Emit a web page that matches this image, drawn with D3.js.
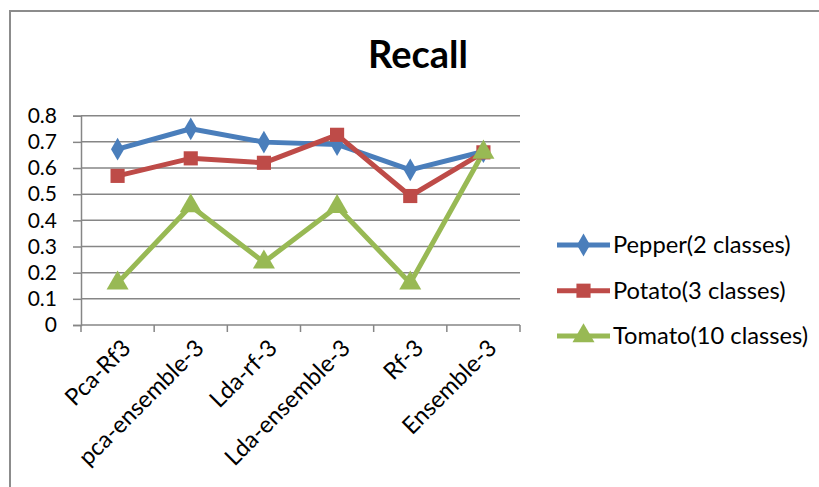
<!DOCTYPE html>
<html>
<head>
<meta charset="utf-8">
<script src="https://cdn.jsdelivr.net/npm/d3@7/dist/d3.min.js"></script>
<style>
  html, body { margin: 0; padding: 0; background: #fff; }
  svg { display: block; }
  text { font-family: Lato, "Open Sans", sans-serif; fill: #000; }
</style>
</head>
<body>
<svg id="chart" width="819" height="487"></svg>
<script>
// Recall of each classifier pipeline per crop dataset
const categories = ["Pca-Rf3", "pca-ensemble-3", "Lda-rf-3", "Lda-ensemble-3", "Rf-3", "Ensemble-3"];
const pepper = [0.672, 0.75, 0.699, 0.69, 0.593, 0.663];
const potato = [0.57, 0.637, 0.62, 0.727, 0.493, 0.66];
const tomato = [0.16, 0.455, 0.24, 0.452, 0.16, 0.66];
const seriesNames = ["Pepper(2 classes)", "Potato(3 classes)", "Tomato(10 classes)"];
const yTicks = [0, 0.1, 0.2, 0.3, 0.4, 0.5, 0.6, 0.7, 0.8];

const colors = ["#4a7ebb", "#be4b48", "#98b954"];
const symbols = [d3.symbolDiamond, d3.symbolSquare, d3.symbolTriangle];
const symbolSizes = [150, 200, 210];
const series = [pepper, potato, tomato].map((values, i) => ({
  name: seriesNames[i], values, color: colors[i], symbol: symbols[i], size: symbolSizes[i]
}));

const svg = d3.select("#chart");

// Outer frame of the chart area
svg.append("rect")
  .attr("x", 10).attr("y", 11)
  .attr("width", 900).attr("height", 600)
  .attr("fill", "none").attr("stroke", "#8c8c8c").attr("stroke-width", 2);

const plot = { left: 81, right: 520, top: 115.7, bottom: 325 };

const x = d3.scaleBand().domain(categories).range([plot.left, plot.right]);
const y = d3.scaleLinear().domain([0, 0.8]).range([plot.bottom, plot.top]);
const cx = c => x(c) + x.bandwidth() / 2;

// Horizontal gridlines
svg.append("g")
  .selectAll("line")
  .data(yTicks.filter(t => t > 0))
  .join("line")
  .attr("x1", plot.left).attr("x2", plot.right)
  .attr("y1", d => y(d)).attr("y2", d => y(d))
  .attr("stroke", "#868686").attr("stroke-width", 1.5);

// Y axis
const yAxis = svg.append("g")
  .attr("transform", `translate(${plot.left},0)`)
  .call(d3.axisLeft(y).tickValues(yTicks).tickFormat(d => d === 0 ? "0" : d3.format(".1f")(d)).tickSize(8).tickPadding(16));
yAxis.select(".domain").attr("stroke", "#868686").attr("stroke-width", 1.5);
yAxis.selectAll(".tick line").attr("stroke", "#868686").attr("stroke-width", 1.5);
yAxis.selectAll(".tick text").attr("font-size", 21).attr("font-family", "Lato, sans-serif").attr("fill", "#000");

// X axis with ticks at category boundaries
const xAxisG = svg.append("g").attr("transform", `translate(0,${plot.bottom})`);
xAxisG.append("line")
  .attr("x1", plot.left).attr("x2", plot.right)
  .attr("stroke", "#868686").attr("stroke-width", 1.5);
const boundaries = categories.map(c => x(c)).concat([plot.right]);
xAxisG.selectAll("line.tk")
  .data(boundaries)
  .join("line").attr("class", "tk")
  .attr("x1", d => d).attr("x2", d => d)
  .attr("y1", 0).attr("y2", 7)
  .attr("stroke", "#868686").attr("stroke-width", 1.5);
xAxisG.selectAll("text")
  .data(categories)
  .join("text")
  .attr("transform", d => `translate(${cx(d) + 3},${13}) rotate(-45)`)
  .attr("text-anchor", "end")
  .attr("dy", "0.7em")
  .attr("font-size", 23.5)
  .text(d => d);

// Series lines and markers
const line = d3.line().x((d, i) => cx(categories[i])).y(d => y(d));
series.forEach(s => {
  svg.append("path")
    .datum(s.values)
    .attr("d", line)
    .attr("fill", "none")
    .attr("stroke", s.color)
    .attr("stroke-width", 5)
    .attr("stroke-linejoin", "round");
});
series.forEach(s => {
  svg.append("g")
    .selectAll("path")
    .data(s.values)
    .join("path")
    .attr("transform", (d, i) => `translate(${cx(categories[i])},${y(d)})`)
    .attr("d", d3.symbol().type(s.symbol).size(s.size))
    .attr("fill", s.color);
});

// Title
svg.append("text")
  .attr("x", 418).attr("y", 68)
  .attr("text-anchor", "middle")
  .attr("font-size", 38).attr("font-weight", "bold")
  .text("Recall");

// Legend
const legendY = [245, 290.7, 336];
const legend = svg.append("g")
  .selectAll("g")
  .data(series)
  .join("g")
  .attr("transform", (d, i) => `translate(557,${legendY[i]})`);
legend.append("line")
  .attr("x1", 0).attr("x2", 53)
  .attr("stroke", d => d.color).attr("stroke-width", 5);
legend.append("path")
  .attr("transform", "translate(26.5,0)")
  .attr("d", d => d3.symbol().type(d.symbol).size(d.size)())
  .attr("fill", d => d.color);
legend.append("text")
  .attr("x", 56).attr("dy", "0.35em")
  .attr("font-size", 23.7)
  .text(d => d.name);
</script>
</body>
</html>
